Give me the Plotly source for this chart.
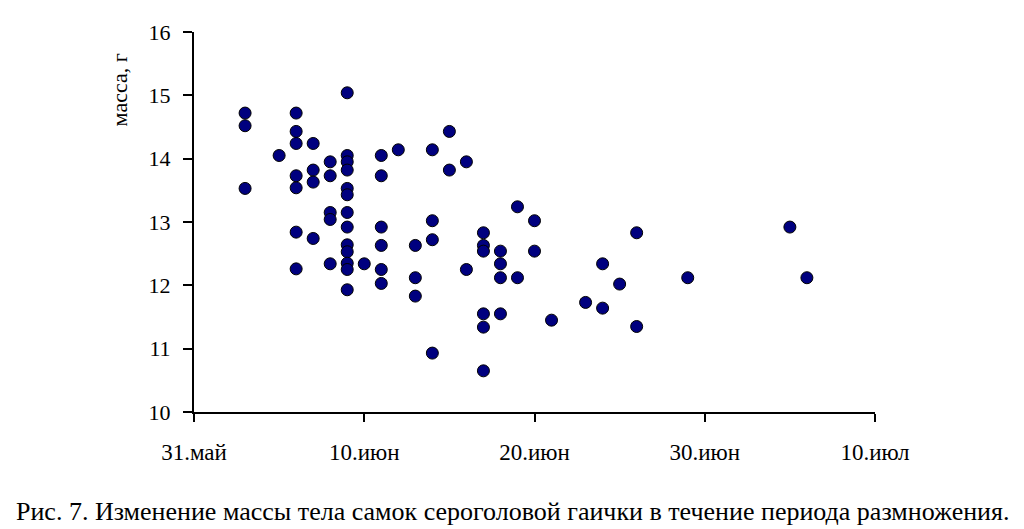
import plotly.graph_objects as go
import pandas as pd

# Day offsets from 31 May and body mass (g)
day_offsets = [3, 3, 3,
               5,
               6, 6, 6, 6, 6, 6, 6,
               7, 7, 7, 7,
               8, 8, 8, 8, 8,
               9, 9, 9, 9, 9, 9, 9, 9, 9, 9, 9, 9, 9,
               10,
               11, 11, 11, 11, 11, 11,
               12,
               13, 13, 13,
               14, 14, 14, 14,
               15, 15,
               16, 16,
               17, 17, 17, 17, 17, 17,
               18, 18, 18, 18,
               19, 19,
               20, 20,
               21,
               23,
               24, 24,
               25,
               26, 26,
               29,
               35,
               36]
mass = [14.72, 14.52, 13.53,
        14.05,
        14.72, 14.43, 14.24, 13.73, 13.54, 12.84, 12.26,
        14.24, 13.82, 13.63, 12.74,
        13.95, 13.73, 13.15, 13.04, 12.34,
        15.04, 14.05, 13.95, 13.82, 13.53, 13.43, 13.15, 12.92, 12.64, 12.53, 12.35, 12.25, 11.93,
        12.34,
        14.05, 13.73, 12.92, 12.63, 12.25, 12.03,
        14.14,
        12.63, 12.12, 11.83,
        14.14, 13.02, 12.72, 10.93,
        14.43, 13.82,
        13.95, 12.25,
        12.83, 12.63, 12.54, 11.55, 11.34, 10.65,
        12.54, 12.34, 12.12, 11.55,
        13.24, 12.12,
        13.02, 12.54,
        11.45,
        11.73,
        12.34, 11.64,
        12.02,
        12.83, 11.35,
        12.12,
        12.92,
        12.12]

base_date = pd.Timestamp("2000-05-31")
dates = [base_date + pd.Timedelta(days=d) for d in day_offsets]

tick_dates = ["2000-05-31", "2000-06-10", "2000-06-20", "2000-06-30", "2000-07-10"]
tick_labels = ["31.май", "10.июн", "20.июн", "30.июн", "10.июл"]
y_ticks = [10, 11, 12, 13, 14, 15, 16]

fig = go.Figure()
fig.add_trace(go.Scatter(
    x=dates, y=mass, mode="markers",
    marker=dict(size=12, color="#00007f", line=dict(color="#000000", width=1)),
    showlegend=False, cliponaxis=False,
))

font_serif = "Liberation Serif, Times New Roman, serif"

fig.update_layout(
    width=1024, height=529,
    margin=dict(l=194, r=149, t=32, b=117),
    paper_bgcolor="white", plot_bgcolor="white",
    font=dict(family=font_serif, color="#000000"),
    xaxis=dict(
        type="date", range=["2000-05-31", "2000-07-10"],
        tickvals=tick_dates, ticktext=tick_labels,
        showgrid=False, zeroline=False,
        showline=True, linecolor="#000000", linewidth=2,
        ticks="outside", ticklen=8, tickwidth=2, tickcolor="#000000",
        tickfont=dict(size=23, family=font_serif),
        ticklabelstandoff=10,
    ),
    yaxis=dict(
        range=[10, 16], tickvals=y_ticks,
        showgrid=False, zeroline=False,
        showline=True, linecolor="#000000", linewidth=2,
        ticks="outside", ticklen=9, tickwidth=2, tickcolor="#000000",
        tickfont=dict(size=22, family=font_serif),
        ticklabelstandoff=8,
    ),
    annotations=[
        dict(text="масса, г", xref="paper", yref="paper",
             x=-0.110, y=0.8466, xanchor="center", yanchor="middle",
             textangle=-90, showarrow=False,
             font=dict(size=22, family=font_serif)),
        dict(text="Рис. 7. Изменение массы тела самок сероголовой гаички в течение периода размножения.",
             xref="paper", yref="paper", x=0.467, y=-0.261,
             xanchor="center", yanchor="middle", showarrow=False,
             font=dict(size=26, family=font_serif)),
    ],
)

fig.write_html("out.html")
